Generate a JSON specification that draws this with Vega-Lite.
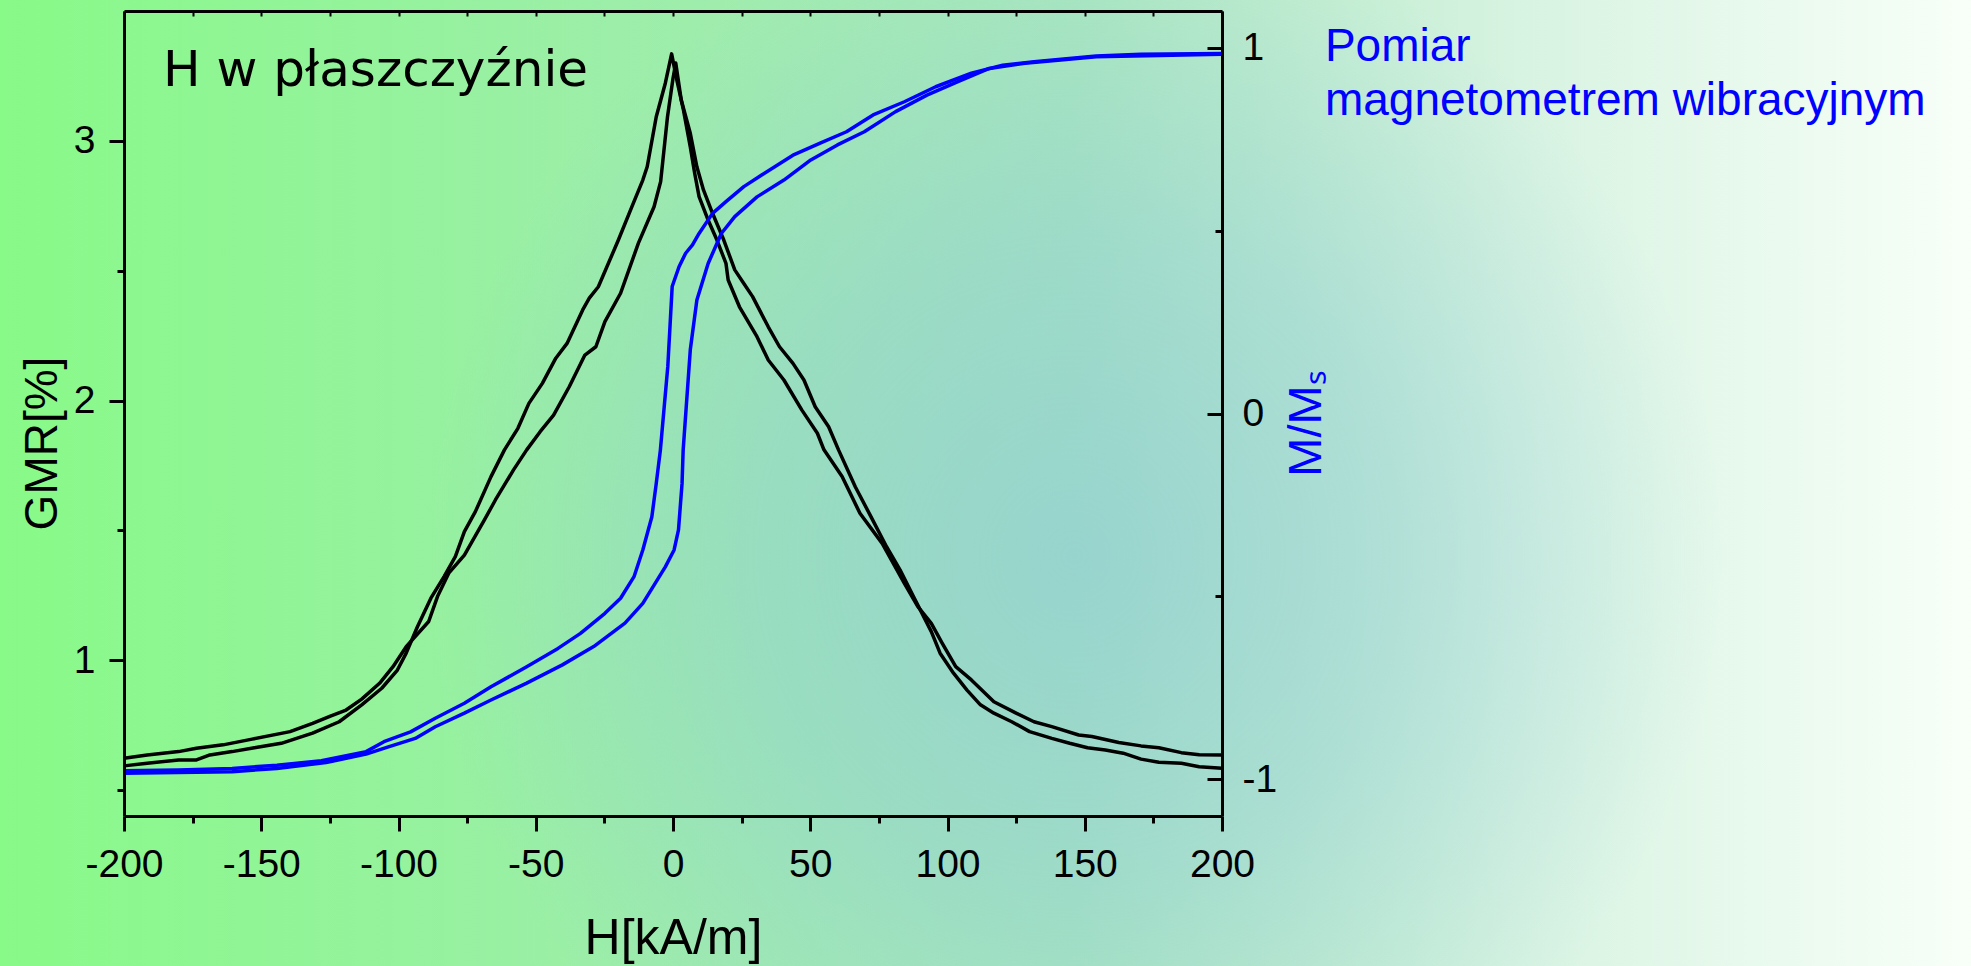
{
  "$schema": "https://vega.github.io/schema/vega-lite/v6.json",
  "width": 1098,
  "height": 805,
  "autosize": {"type": "none"},
  "padding": {"left": 124, "top": 11, "right": 749, "bottom": 150},
  "background": "#bfeecb",
  "config": {"view": {"stroke": null}},
  "datasets": {
    "bg": [{"x1": -245.2, "x2": 473, "y1": -0.178, "y2": 3.543}],
    "notes": [
      {"H": -185.8, "G": 3.211, "t": "H w płaszczyźnie", "k": "a"},
      {"H": 237.5, "G": 3.3075, "t": "Pomiar", "k": "b"},
      {"H": 237.5, "G": 3.0995, "t": "magnetometrem wibracyjnym", "k": "b"}
    ],
    "curves": [
      {"s": "up", "H": -200, "v": 0.622}, {"s": "up", "H": -191.5, "v": 0.635}, {"s": "up", "H": -180.1, "v": 0.648}, {"s": "up", "H": -173.6, "v": 0.661}, {"s": "up", "H": -163.9, "v": 0.674}, {"s": "up", "H": -153.3, "v": 0.696}, {"s": "up", "H": -139.5, "v": 0.725}, {"s": "up", "H": -131.3, "v": 0.757}, {"s": "up", "H": -124.8, "v": 0.785}, {"s": "up", "H": -119.1, "v": 0.808}, {"s": "up", "H": -113.4, "v": 0.85}, {"s": "up", "H": -106.9, "v": 0.911}, {"s": "up", "H": -102.0, "v": 0.975}, {"s": "up", "H": -97.2, "v": 1.052}, {"s": "up", "H": -89.0, "v": 1.149}, {"s": "up", "H": -85.8, "v": 1.245}, {"s": "up", "H": -81.7, "v": 1.335}, {"s": "up", "H": -76.0, "v": 1.405}, {"s": "up", "H": -68.7, "v": 1.54}, {"s": "up", "H": -64.7, "v": 1.617}, {"s": "up", "H": -58.1, "v": 1.733}, {"s": "up", "H": -53.3, "v": 1.81}, {"s": "up", "H": -48.4, "v": 1.88}, {"s": "up", "H": -43.5, "v": 1.944}, {"s": "up", "H": -37.8, "v": 2.053}, {"s": "up", "H": -32.1, "v": 2.175}, {"s": "up", "H": -28.1, "v": 2.207}, {"s": "up", "H": -24.8, "v": 2.304}, {"s": "up", "H": -19.1, "v": 2.413}, {"s": "up", "H": -12.6, "v": 2.606}, {"s": "up", "H": -6.9, "v": 2.746}, {"s": "up", "H": -4.5, "v": 2.843}, {"s": "up", "H": -2.0, "v": 3.093}, {"s": "up", "H": 0.0, "v": 3.24}, {"s": "up", "H": 1.0, "v": 3.3}, {"s": "up", "H": 3.0, "v": 3.157}, {"s": "up", "H": 6.3, "v": 3.029}, {"s": "up", "H": 8.7, "v": 2.9}, {"s": "up", "H": 11.1, "v": 2.811}, {"s": "up", "H": 14.4, "v": 2.721}, {"s": "up", "H": 18.5, "v": 2.618}, {"s": "up", "H": 22.5, "v": 2.503}, {"s": "up", "H": 25.8, "v": 2.451}, {"s": "up", "H": 29.0, "v": 2.4}, {"s": "up", "H": 34.7, "v": 2.284}, {"s": "up", "H": 38.8, "v": 2.207}, {"s": "up", "H": 43.7, "v": 2.143}, {"s": "up", "H": 47.7, "v": 2.079}, {"s": "up", "H": 51.8, "v": 1.976}, {"s": "up", "H": 56.7, "v": 1.899}, {"s": "up", "H": 60.3, "v": 1.81}, {"s": "up", "H": 66.4, "v": 1.668}, {"s": "up", "H": 72.1, "v": 1.553}, {"s": "up", "H": 77.8, "v": 1.437}, {"s": "up", "H": 82.7, "v": 1.348}, {"s": "up", "H": 87.6, "v": 1.245}, {"s": "up", "H": 94.1, "v": 1.11}, {"s": "up", "H": 97.3, "v": 1.027}, {"s": "up", "H": 102.2, "v": 0.95}, {"s": "up", "H": 107.1, "v": 0.885}, {"s": "up", "H": 112.0, "v": 0.828}, {"s": "up", "H": 116.9, "v": 0.796}, {"s": "up", "H": 123.4, "v": 0.763}, {"s": "up", "H": 129.9, "v": 0.725}, {"s": "up", "H": 138.0, "v": 0.699}, {"s": "up", "H": 144.5, "v": 0.68}, {"s": "up", "H": 151.0, "v": 0.663}, {"s": "up", "H": 157.5, "v": 0.654}, {"s": "up", "H": 164.0, "v": 0.642}, {"s": "up", "H": 170.5, "v": 0.619}, {"s": "up", "H": 177.0, "v": 0.607}, {"s": "up", "H": 185.2, "v": 0.603}, {"s": "up", "H": 191.7, "v": 0.59}, {"s": "up", "H": 200, "v": 0.584},
      {"s": "down", "H": -200, "v": 0.593}, {"s": "down", "H": -191.5, "v": 0.603}, {"s": "down", "H": -180.1, "v": 0.616}, {"s": "down", "H": -173.6, "v": 0.616}, {"s": "down", "H": -168.7, "v": 0.635}, {"s": "down", "H": -160.6, "v": 0.648}, {"s": "down", "H": -152.5, "v": 0.663}, {"s": "down", "H": -142.7, "v": 0.68}, {"s": "down", "H": -131.3, "v": 0.719}, {"s": "down", "H": -121.6, "v": 0.763}, {"s": "down", "H": -113.4, "v": 0.828}, {"s": "down", "H": -106.1, "v": 0.892}, {"s": "down", "H": -100.4, "v": 0.962}, {"s": "down", "H": -97.2, "v": 1.027}, {"s": "down", "H": -93.1, "v": 1.129}, {"s": "down", "H": -88.2, "v": 1.239}, {"s": "down", "H": -83.4, "v": 1.322}, {"s": "down", "H": -79.3, "v": 1.399}, {"s": "down", "H": -76.0, "v": 1.495}, {"s": "down", "H": -72.0, "v": 1.572}, {"s": "down", "H": -66.3, "v": 1.707}, {"s": "down", "H": -61.4, "v": 1.81}, {"s": "down", "H": -56.5, "v": 1.893}, {"s": "down", "H": -52.5, "v": 1.989}, {"s": "down", "H": -47.6, "v": 2.066}, {"s": "down", "H": -42.7, "v": 2.163}, {"s": "down", "H": -38.6, "v": 2.22}, {"s": "down", "H": -32.9, "v": 2.349}, {"s": "down", "H": -30.5, "v": 2.394}, {"s": "down", "H": -27.2, "v": 2.438}, {"s": "down", "H": -19.9, "v": 2.618}, {"s": "down", "H": -15.0, "v": 2.746}, {"s": "down", "H": -11.0, "v": 2.849}, {"s": "down", "H": -9.4, "v": 2.9}, {"s": "down", "H": -6.1, "v": 3.093}, {"s": "down", "H": -2.8, "v": 3.222}, {"s": "down", "H": -0.5, "v": 3.335}, {"s": "down", "H": 1.4, "v": 3.234}, {"s": "down", "H": 3.8, "v": 3.119}, {"s": "down", "H": 6.3, "v": 2.977}, {"s": "down", "H": 7.9, "v": 2.875}, {"s": "down", "H": 9.5, "v": 2.785}, {"s": "down", "H": 12.8, "v": 2.695}, {"s": "down", "H": 16.0, "v": 2.618}, {"s": "down", "H": 19.3, "v": 2.528}, {"s": "down", "H": 20.1, "v": 2.464}, {"s": "down", "H": 24.2, "v": 2.361}, {"s": "down", "H": 30.6, "v": 2.246}, {"s": "down", "H": 34.7, "v": 2.156}, {"s": "down", "H": 40.4, "v": 2.079}, {"s": "down", "H": 46.9, "v": 1.964}, {"s": "down", "H": 52.6, "v": 1.874}, {"s": "down", "H": 55.0, "v": 1.81}, {"s": "down", "H": 61.6, "v": 1.707}, {"s": "down", "H": 68.1, "v": 1.566}, {"s": "down", "H": 76.2, "v": 1.45}, {"s": "down", "H": 84.3, "v": 1.296}, {"s": "down", "H": 89.2, "v": 1.206}, {"s": "down", "H": 94.1, "v": 1.142}, {"s": "down", "H": 98.1, "v": 1.065}, {"s": "down", "H": 103.0, "v": 0.975}, {"s": "down", "H": 108.7, "v": 0.924}, {"s": "down", "H": 116.9, "v": 0.84}, {"s": "down", "H": 125.0, "v": 0.796}, {"s": "down", "H": 131.5, "v": 0.763}, {"s": "down", "H": 138.0, "v": 0.744}, {"s": "down", "H": 147.8, "v": 0.712}, {"s": "down", "H": 152.6, "v": 0.706}, {"s": "down", "H": 162.4, "v": 0.683}, {"s": "down", "H": 170.5, "v": 0.67}, {"s": "down", "H": 177.0, "v": 0.663}, {"s": "down", "H": 185.2, "v": 0.644}, {"s": "down", "H": 191.7, "v": 0.636}, {"s": "down", "H": 200, "v": 0.635},
      {"s": "mL", "H": -200, "v": -0.976}, {"s": "mL", "H": -180.1, "v": -0.974}, {"s": "mL", "H": -160.6, "v": -0.97}, {"s": "mL", "H": -144.3, "v": -0.961}, {"s": "mL", "H": -128.1, "v": -0.949}, {"s": "mL", "H": -111.8, "v": -0.924}, {"s": "mL", "H": -105.3, "v": -0.897}, {"s": "mL", "H": -95.6, "v": -0.87}, {"s": "mL", "H": -86.6, "v": -0.833}, {"s": "mL", "H": -76.0, "v": -0.792}, {"s": "mL", "H": -66.3, "v": -0.747}, {"s": "mL", "H": -53.3, "v": -0.692}, {"s": "mL", "H": -41.9, "v": -0.642}, {"s": "mL", "H": -33.7, "v": -0.601}, {"s": "mL", "H": -24.8, "v": -0.546}, {"s": "mL", "H": -19.1, "v": -0.505}, {"s": "mL", "H": -14.2, "v": -0.446}, {"s": "mL", "H": -11.0, "v": -0.373}, {"s": "mL", "H": -7.7, "v": -0.282}, {"s": "mL", "H": -6.1, "v": -0.191}, {"s": "mL", "H": -4.6, "v": -0.1}, {"s": "mL", "H": -1.9, "v": 0.128}, {"s": "mL", "H": -0.3, "v": 0.347}, {"s": "mL", "H": 2.2, "v": 0.401}, {"s": "mL", "H": 4.6, "v": 0.438}, {"s": "mL", "H": 7.1, "v": 0.461}, {"s": "mL", "H": 9.5, "v": 0.492}, {"s": "mL", "H": 14.4, "v": 0.547}, {"s": "mL", "H": 19.3, "v": 0.579}, {"s": "mL", "H": 25.8, "v": 0.62}, {"s": "mL", "H": 32.3, "v": 0.652}, {"s": "mL", "H": 43.7, "v": 0.706}, {"s": "mL", "H": 53.4, "v": 0.738}, {"s": "mL", "H": 63.2, "v": 0.77}, {"s": "mL", "H": 72.9, "v": 0.816}, {"s": "mL", "H": 84.3, "v": 0.852}, {"s": "mL", "H": 95.7, "v": 0.893}, {"s": "mL", "H": 108.7, "v": 0.93}, {"s": "mL", "H": 120.1, "v": 0.952}, {"s": "mL", "H": 131.5, "v": 0.961}, {"s": "mL", "H": 154.2, "v": 0.977}, {"s": "mL", "H": 170.5, "v": 0.982}, {"s": "mL", "H": 200, "v": 0.984},
      {"s": "mR", "H": -200, "v": -0.983}, {"s": "mR", "H": -160.6, "v": -0.979}, {"s": "mR", "H": -144.3, "v": -0.97}, {"s": "mR", "H": -126.4, "v": -0.954}, {"s": "mR", "H": -111.8, "v": -0.931}, {"s": "mR", "H": -103.7, "v": -0.911}, {"s": "mR", "H": -93.9, "v": -0.888}, {"s": "mR", "H": -86.6, "v": -0.856}, {"s": "mR", "H": -76.0, "v": -0.819}, {"s": "mR", "H": -66.3, "v": -0.783}, {"s": "mR", "H": -53.3, "v": -0.737}, {"s": "mR", "H": -40.3, "v": -0.687}, {"s": "mR", "H": -28.9, "v": -0.637}, {"s": "mR", "H": -17.5, "v": -0.573}, {"s": "mR", "H": -11.0, "v": -0.519}, {"s": "mR", "H": -2.8, "v": -0.419}, {"s": "mR", "H": 0.4, "v": -0.373}, {"s": "mR", "H": 2.0, "v": -0.318}, {"s": "mR", "H": 3.3, "v": -0.191}, {"s": "mR", "H": 3.7, "v": -0.1}, {"s": "mR", "H": 6.3, "v": 0.174}, {"s": "mR", "H": 8.7, "v": 0.31}, {"s": "mR", "H": 12.8, "v": 0.41}, {"s": "mR", "H": 17.6, "v": 0.492}, {"s": "mR", "H": 22.5, "v": 0.538}, {"s": "mR", "H": 30.6, "v": 0.592}, {"s": "mR", "H": 40.4, "v": 0.638}, {"s": "mR", "H": 50.2, "v": 0.693}, {"s": "mR", "H": 59.9, "v": 0.734}, {"s": "mR", "H": 69.7, "v": 0.77}, {"s": "mR", "H": 81.1, "v": 0.825}, {"s": "mR", "H": 92.5, "v": 0.87}, {"s": "mR", "H": 103.8, "v": 0.907}, {"s": "mR", "H": 115.2, "v": 0.943}, {"s": "mR", "H": 128.2, "v": 0.957}, {"s": "mR", "H": 154.2, "v": 0.975}, {"s": "mR", "H": 200, "v": 0.982}
    ]
  },
  "layer": [
    {
      "data": {"name": "bg"},
      "mark": {
        "type": "rect",
        "fill": {
          "gradient": "linear", "x1": 0, "y1": 0, "x2": 1, "y2": 0,
          "stops": [
            {"offset": 0, "color": "#88fa88"},
            {"offset": 0.31, "color": "#9ceea8"},
            {"offset": 0.545, "color": "#aae8be"},
            {"offset": 0.77, "color": "#d7f3e1"},
            {"offset": 1, "color": "#f8fff8"}
          ]
        }
      },
      "encoding": {
        "x": {"field": "x1", "type": "quantitative", "scale": {"domain": [-200, 200], "nice": false, "zero": false}, "axis": null},
        "x2": {"field": "x2"},
        "y": {"field": "y1", "type": "quantitative", "scale": {"domain": [0.4, 3.5], "nice": false, "zero": false}, "axis": null},
        "y2": {"field": "y2"}
      }
    },
    {
      "data": {"name": "bg"},
      "mark": {
        "type": "rect",
        "fill": {
          "gradient": "radial", "x1": 0.545, "y1": 0.537, "r1": 0, "x2": 0.545, "y2": 0.537, "r2": 0.33,
          "stops": [
            {"offset": 0, "color": "rgba(140,200,215,0.62)"},
            {"offset": 0.5, "color": "rgba(140,200,215,0.4)"},
            {"offset": 1, "color": "rgba(140,200,215,0)"}
          ]
        }
      },
      "encoding": {
        "x": {"field": "x1", "type": "quantitative", "scale": {"domain": [-200, 200], "nice": false, "zero": false}, "axis": null},
        "x2": {"field": "x2"},
        "y": {"field": "y1", "type": "quantitative", "scale": {"domain": [0.4, 3.5], "nice": false, "zero": false}, "axis": null},
        "y2": {"field": "y2"}
      }
    },
    {
      "data": {"name": "notes"},
      "transform": [{"filter": "datum.k === 'a'"}],
      "mark": {"type": "text", "align": "left", "baseline": "alphabetic", "font": "DejaVu Sans", "fontSize": 50, "color": "#000000"},
      "encoding": {
        "x": {"field": "H", "type": "quantitative", "scale": {"domain": [-200, 200], "nice": false, "zero": false}, "axis": null},
        "y": {"field": "G", "type": "quantitative", "scale": {"domain": [0.4, 3.5], "nice": false, "zero": false}, "axis": null},
        "text": {"field": "t"}
      }
    },
    {
      "data": {"name": "notes"},
      "transform": [{"filter": "datum.k === 'b'"}],
      "mark": {"type": "text", "align": "left", "baseline": "alphabetic", "font": "Liberation Sans", "fontSize": 46, "color": "#0000ff"},
      "encoding": {
        "x": {"field": "H", "type": "quantitative", "scale": {"domain": [-200, 200], "nice": false, "zero": false}, "axis": null},
        "y": {"field": "G", "type": "quantitative", "scale": {"domain": [0.4, 3.5], "nice": false, "zero": false}, "axis": null},
        "text": {"field": "t"}
      }
    },
    {
      "data": {"name": "curves"},
      "transform": [{"filter": "datum.s === 'up' || datum.s === 'down'"}],
      "mark": {"type": "line", "color": "#000000", "strokeWidth": 3.5, "strokeJoin": "round"},
      "encoding": {
        "x": {
          "field": "H", "type": "quantitative",
          "scale": {"domain": [-200, 200], "nice": false, "zero": false},
          "axis": {
            "orient": "bottom", "zindex": 1, "grid": false,
            "values": [-200, -175, -150, -125, -100, -75, -50, -25, 0, 25, 50, 75, 100, 125, 150, 175, 200],
            "labelExpr": "datum.value % 50 === 0 ? '' + datum.value : ''",
            "tickSize": {"condition": {"test": "datum.value % 50 !== 0", "value": 7}, "value": 15},
            "tickWidth": 3, "tickColor": "#000000",
            "domainColor": "#000000", "domainWidth": 3,
            "labelFont": "Liberation Sans", "labelFontSize": 39, "labelColor": "#000000",
            "labelPadding": 14, "labelFlush": false, "labelOverlap": false,
            "title": "H[kA/m]", "titleFont": "Liberation Sans", "titleFontSize": 50,
            "titleFontWeight": "normal", "titleColor": "#000000",
            "titleX": 549, "titleY": 137, "titleAlign": "center", "titleBaseline": "alphabetic"
          }
        },
        "y": {
          "field": "v", "type": "quantitative",
          "scale": {"domain": [0.4, 3.5], "nice": false, "zero": false},
          "axis": {
            "orient": "left", "zindex": 1, "grid": false,
            "values": [0.5, 1, 1.5, 2, 2.5, 3],
            "labelExpr": "datum.value % 1 === 0 ? '' + datum.value : ''",
            "tickSize": {"condition": {"test": "datum.value % 1 !== 0", "value": 7}, "value": 15},
            "tickWidth": 3, "tickColor": "#000000",
            "domainColor": "#000000", "domainWidth": 3,
            "labelFont": "Liberation Sans", "labelFontSize": 39, "labelColor": "#000000",
            "labelPadding": 14, "labelFlush": false, "labelOverlap": false,
            "title": "GMR[%]", "titleFont": "Liberation Sans", "titleFontSize": 46,
            "titleFontWeight": "normal", "titleColor": "#000000",
            "titleAngle": 270, "titleX": -68, "titleY": 432, "titleAlign": "center", "titleBaseline": "alphabetic"
          }
        },
        "detail": {"field": "s", "type": "nominal"}
      }
    },
    {
      "data": {"name": "curves"},
      "transform": [{"filter": "datum.s === 'mL' || datum.s === 'mR'"}],
      "mark": {"type": "line", "color": "#0000ff", "strokeWidth": 3.5, "strokeJoin": "round"},
      "encoding": {
        "x": {
          "field": "H", "type": "quantitative",
          "scale": {"domain": [-200, 200], "nice": false, "zero": false},
          "axis": {
            "orient": "top", "zindex": 1, "grid": false, "labels": false, "title": null,
            "values": [-200, -175, -150, -125, -100, -75, -50, -25, 0, 25, 50, 75, 100, 125, 150, 175, 200],
            "tickSize": -5, "tickWidth": 2, "tickColor": "#000000",
            "domainColor": "#000000", "domainWidth": 3
          }
        },
        "y": {
          "field": "v", "type": "quantitative",
          "scale": {"domain": [-1.1, 1.1], "nice": false, "zero": false},
          "axis": {
            "orient": "right", "zindex": 1, "grid": false,
            "values": [-1, -0.5, 0, 0.5, 1],
            "labelExpr": "datum.value % 1 === 0 ? '' + datum.value : ''",
            "tickSize": {"condition": {"test": "datum.value % 1 !== 0", "value": -7}, "value": -15},
            "tickWidth": 3, "tickColor": "#000000",
            "domainColor": "#000000", "domainWidth": 3,
            "labelFont": "Liberation Sans", "labelFontSize": 39, "labelColor": "#000000",
            "labelPadding": 35, "labelFlush": false, "labelOverlap": false,
            "title": "M/Mₛ", "titleFont": "Liberation Sans", "titleFontSize": 47,
            "titleFontWeight": "normal", "titleColor": "#0000ff",
            "titleAngle": 270, "titleX": 98, "titleY": 412, "titleAlign": "center", "titleBaseline": "alphabetic"
          }
        },
        "detail": {"field": "s", "type": "nominal"}
      }
    }
  ],
  "resolve": {"scale": {"y": "independent"}, "axis": {"x": "independent", "y": "independent"}}
}
